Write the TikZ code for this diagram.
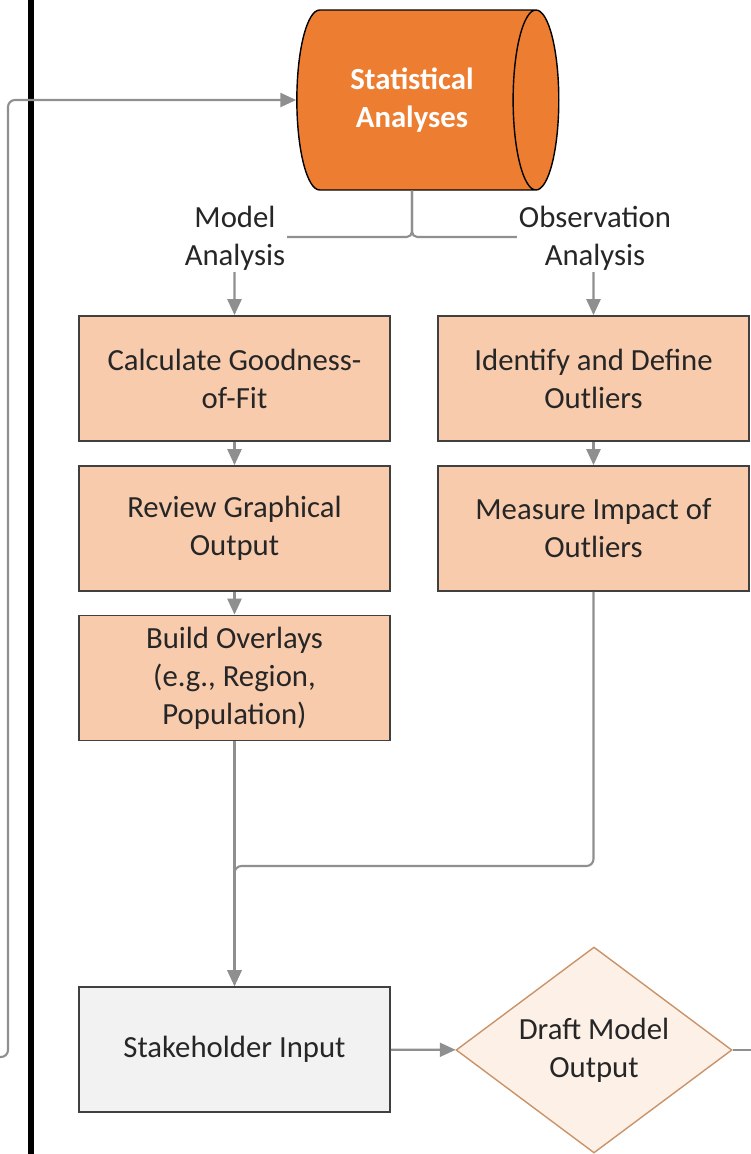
\documentclass[tikz,border=0pt]{standalone}
\usepackage{fontspec}
\setmainfont{Carlito}
\usetikzlibrary{shapes.geometric,arrows.meta}
\definecolor{statorange}{HTML}{ED7D31}
\definecolor{stepfill}{HTML}{F8CBAD}
\definecolor{inputfill}{HTML}{F2F2F2}
\definecolor{draftfill}{HTML}{FDF1E7}
\definecolor{draftline}{HTML}{C9946A}
\definecolor{flowgray}{HTML}{8F8F8F}
\definecolor{edgegray}{HTML}{404040}
\definecolor{txt}{HTML}{262626}
\begin{document}
\begin{tikzpicture}[x=0.02cm, y=-0.02cm,
  every node/.style={font=\fontsize{17.5}{21.6}\selectfont, text=txt, align=center},
  procbox/.style={rectangle, draw=edgegray, line width=1.1pt, fill=stepfill, minimum width=6.22cm, minimum height=2.5cm, inner sep=2pt},
  flow/.style={draw=flowgray, line width=1.2pt, -{Triangle[length=9pt,width=8pt]}},
  plainflow/.style={draw=flowgray, line width=1.2pt},
  lbl/.style={fill=white, inner sep=1pt}]
\useasboundingbox (0,0) rectangle (751,1154);
% lane divider
\draw[line width=3pt, black] (31,0) -- (31,1154);
\node[cylinder, draw=black, line width=0.8pt, fill=statorange, aspect=0.6, minimum width=3.6cm, minimum height=5.24cm, text=white, font=\fontsize{17.5}{21.6}\selectfont\bfseries] (sa) at (412,100) {Statistical\\Analyses};
\node[procbox] (gof) at (234.5,378.5) {Calculate Goodness-\\of-Fit};
\node[procbox] (rgo) at (234.5,528.5) {Review Graphical\\Output};
\node[procbox] (bo) at (234.5,678) {Build Overlays\\(e.g., Region,\\Population)};
\node[procbox] (ido) at (593.5,378.5) {Identify and Define\\Outliers};
\node[procbox] (mio) at (593.5,528.5) {Measure Impact of\\Outliers};
\node[procbox, fill=inputfill] (si) at (234.5,1049.5) {Stakeholder Input};
\node[diamond, draw=draftline, line width=0.8pt, fill=draftfill, aspect=1.34, minimum width=5.52cm, minimum height=4.12cm, inner sep=0pt] (dmo) at (594,1050) {Draft Model\\Output};
\coordinate (br) at (412,237);
\coordinate (fb) at (0,1057);
\coordinate (out) at (751,1050);
% branches out of the analyses
\draw[flow, rounded corners=3pt] (sa.south -| br) -- (br) -| (gof.north);
\draw[flow, rounded corners=3pt] (sa.south -| br) -- (br) -| (ido.north);
\node[lbl] (ma) at (235,238) {Model\\Analysis};
\node[lbl] (oa) at (595,238) {Observation\\Analysis};
\draw[flow] (gof) -- (rgo);
\draw[flow] (rgo) -- (bo);
\draw[flow] (ido) -- (mio);
\draw[flow] (bo) -- (si);
\draw[flow, rounded corners=4pt] (mio.south) -- (mio.south |- 0,866) -| (si.north);
\draw[flow] (si) -- (dmo);
\draw[plainflow] (dmo.east) -- (out);
\draw[flow, rounded corners=4pt] (fb) -| (8,100) -- (sa.west);
\end{tikzpicture}
\end{document}
